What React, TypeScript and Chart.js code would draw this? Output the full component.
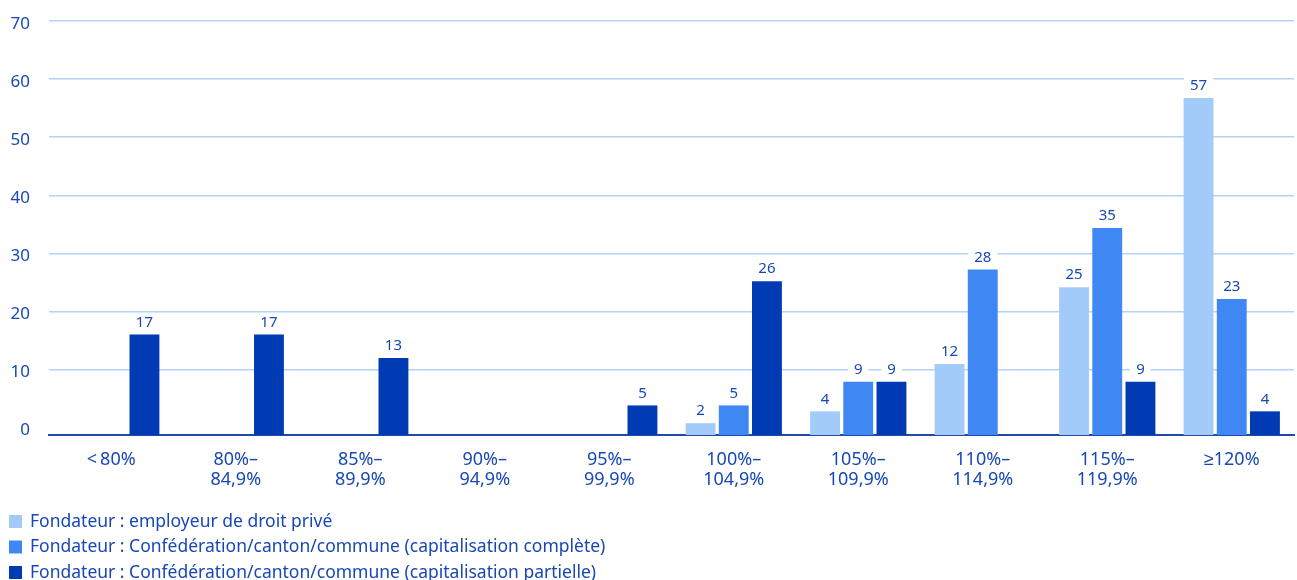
import React, { useEffect, useRef } from "react";
import { Chart, registerables } from "chart.js";

Chart.register(...registerables);

// ---- data ----
const categories: (string | string[])[] = [
  "<\u200980%",
  ["80%–", "84,9%"],
  ["85%–", "89,9%"],
  ["90%–", "94,9%"],
  ["95%–", "99,9%"],
  ["100%–", "104,9%"],
  ["105%–", "109,9%"],
  ["110%–", "114,9%"],
  ["115%–", "119,9%"],
  "≥120%",
];

const seriesNames = [
  "Fondateur : employeur de droit privé",
  "Fondateur : Confédération/canton/commune (capitalisation complète)",
  "Fondateur : Confédération/canton/commune (capitalisation partielle)",
];

const privateEmployer: (number | null)[] = [null, null, null, null, null, 2, 4, 12, 25, 57];
const publicFull: (number | null)[] = [null, null, null, null, null, 5, 9, 28, 35, 23];
const publicPartial: (number | null)[] = [17, 17, 13, null, 5, 26, 9, null, 9, 4];

const yTickValues = [0, 10, 20, 30, 40, 50, 60, 70];

// ---- styles ----
const seriesColors = ["#a3cbfa", "#3f87f2", "#003bb4"];
const textColor = "#1848b5";
const gridColor = "#b3d2f6";
const axisColor = "#1f4aa8";
const fontFamily = "'Noto Sans', sans-serif";

const valueLabelPlugin = {
  id: "valueLabels",
  afterDatasetsDraw(chart: any) {
    const ctx = chart.ctx;
    ctx.save();
    ctx.font = `15px ${fontFamily}`;
    ctx.textAlign = "center";
    ctx.textBaseline = "middle";
    chart.data.datasets.forEach((ds: any, di: number) => {
      const meta = chart.getDatasetMeta(di);
      meta.data.forEach((bar: any, i: number) => {
        const v = ds.data[i];
        if (v === null || v === undefined) return;
        const label = String(v);
        const w = ctx.measureText(label).width + 12;
        const cy = bar.y - 12;
        ctx.fillStyle = "#ffffff";
        ctx.fillRect(bar.x - w / 2, cy - 8, w, 16);
        ctx.fillStyle = textColor;
        ctx.fillText(label, bar.x, cy);
      });
    });
    ctx.restore();
  },
};

const legendPlugin = {
  id: "customLegend",
  afterDraw(chart: any) {
    const ctx = chart.ctx;
    ctx.save();
    ctx.font = `17.5px ${fontFamily}`;
    ctx.textAlign = "left";
    ctx.textBaseline = "middle";
    const rowY = [521.5, 547, 572.5];
    chart.data.datasets.forEach((ds: any, di: number) => {
      const y = rowY[di];
      ctx.fillStyle = ds.backgroundColor;
      ctx.fillRect(9, y - 6.5, 13, 13);
      ctx.fillStyle = textColor;
      ctx.fillText(ds.label, 30, y + 0.5);
    });
    ctx.restore();
  },
};

export default function App() {
  const canvasRef = useRef<HTMLCanvasElement | null>(null);

  useEffect(() => {
    if (!canvasRef.current) return;
    const seriesData = [privateEmployer, publicFull, publicPartial];
    const chart = new Chart(canvasRef.current, {
      type: "bar",
      data: {
        labels: categories,
        datasets: seriesData.map((d, i) => ({
          label: seriesNames[i],
          data: d,
          backgroundColor: seriesColors[i],
          borderWidth: 0,
          categoryPercentage: 0.8,
          barPercentage: 0.9,
          yAxisID: "y",
        })),
      },
      options: {
        responsive: false,
        animation: false,
        devicePixelRatio: 1,
        layout: { padding: { top: 21, right: 3, bottom: 0, left: 0 } },
        plugins: {
          legend: { display: false },
          tooltip: { enabled: false },
          title: { display: false },
        },
        scales: {
          x: {
            type: "category",
            grid: { display: false, drawTicks: false },
            border: { display: true, color: axisColor, width: 2 },
            ticks: {
              color: textColor,
              font: { family: fontFamily, size: 18, lineHeight: "20px" },
              padding: 15,
              maxRotation: 0,
              autoSkip: false,
            },
            afterFit: (s: any) => {
              s.height = 145;
              s.paddingLeft = 0;
              s.paddingRight = 0;
            },
          },
          y: {
            type: "linear",
            display: false,
            min: 0,
            max: 70,
          },
          yTicks: {
            type: "linear",
            axis: "y",
            position: "left",
            min: -1.27,
            max: 70,
            afterBuildTicks: (s: any) => {
              s.ticks = yTickValues.map((v) => ({ value: v }));
            },
            grid: {
              drawTicks: false,
              lineWidth: 1.5,
              color: (c: any) => (c.tick && c.tick.value === 0 ? "rgba(0,0,0,0)" : gridColor),
            },
            border: { display: false },
            ticks: {
              color: textColor,
              font: { family: fontFamily, size: 17 },
              padding: 19,
              labelOffset: 3,
            },
            afterFit: (s: any) => {
              s.width = 49;
              s.paddingTop = 0;
              s.paddingBottom = 0;
            },
          },
        },
      } as any,
      plugins: [valueLabelPlugin, legendPlugin],
    });
    return () => chart.destroy();
  }, []);

  return (
    <div style={{ position: "absolute", left: 0, top: 0, width: 1297, height: 580, background: "#fff" }}>
      <canvas ref={canvasRef} width={1297} height={580} />
    </div>
  );
}
